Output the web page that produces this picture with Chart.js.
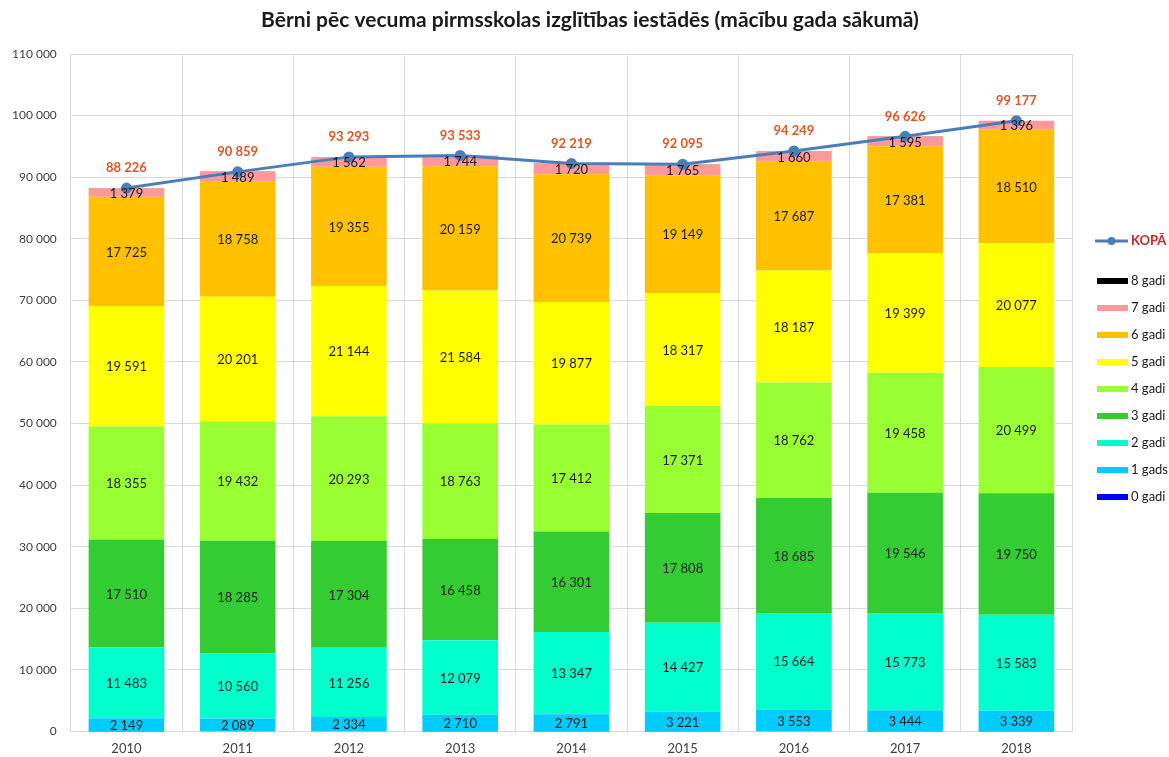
<!DOCTYPE html>
<html>
<head>
<meta charset="utf-8">
<script src="https://cdn.jsdelivr.net/npm/chart.js@4.4.1/dist/chart.umd.min.js"></script>
<style>
  html, body { margin: 0; padding: 0; background: #fff; }
  #wrap { width: 1169px; height: 757px; position: relative; }
</style>
</head>
<body>
<div id="wrap"><canvas id="chart"></canvas></div>
<script>
// Data
const years = ['2010', '2011', '2012', '2013', '2014', '2015', '2016', '2017', '2018'];
const age0 = [4, 5, 5, 4, 3, 4, 6, 3, 2];
const age1 = [2149, 2089, 2334, 2710, 2791, 3221, 3553, 3444, 3339];
const age2 = [11483, 10560, 11256, 12079, 13347, 14427, 15664, 15773, 15583];
const age3 = [17510, 18285, 17304, 16458, 16301, 17808, 18685, 19546, 19750];
const age4 = [18355, 19432, 20293, 18763, 17412, 17371, 18762, 19458, 20499];
const age5 = [19591, 20201, 21144, 21584, 19877, 18317, 18187, 19399, 20077];
const age6 = [17725, 18758, 19355, 20159, 20739, 19149, 17687, 17381, 18510];
const age7 = [1379, 1489, 1562, 1744, 1720, 1765, 1660, 1595, 1396];
const age8 = [30, 40, 40, 32, 29, 33, 45, 27, 21];
const total = [88226, 90859, 93293, 93533, 92219, 92095, 94249, 96626, 99177];
const yTicks = [0, 10000, 20000, 30000, 40000, 50000, 60000, 70000, 80000, 90000, 100000, 110000];

const FONT = 'Lato, "Open Sans", sans-serif';
const fmt = v => String(v).replace(/\B(?=(\d{3})+(?!\d))/g, ' ');

const barSets = [
  { label: '0 gadi', data: age0, color: '#0000FF', showLabel: false },
  { label: '1 gads', data: age1, color: '#00CCFF', showLabel: true },
  { label: '2 gadi', data: age2, color: '#00FFCC', showLabel: true },
  { label: '3 gadi', data: age3, color: '#33CC33', showLabel: true },
  { label: '4 gadi', data: age4, color: '#99FF33', showLabel: true },
  { label: '5 gadi', data: age5, color: '#FFFF00', showLabel: true },
  { label: '6 gadi', data: age6, color: '#FFC000', showLabel: true },
  { label: '7 gadi', data: age7, color: '#FF9999', showLabel: true },
  { label: '8 gadi', data: age8, color: '#000000', showLabel: false }
];

const datasets = [{
  type: 'line',
  label: 'KOPĀ',
  data: total,
  stack: 'total',
  order: 0,
  borderColor: '#4A7EBB',
  backgroundColor: '#4A7EBB',
  borderWidth: 3,
  pointRadius: 4,
  pointBackgroundColor: '#4A7EBB',
  pointBorderColor: '#4A7EBB',
  tension: 0
}];
barSets.forEach(s => {
  datasets.push({
    type: 'bar',
    label: s.label,
    data: s.data,
    stack: 'ages',
    order: 1,
    backgroundColor: s.color,
    borderWidth: 0,
    barPercentage: 0.68,
    categoryPercentage: 1,
    showLabel: s.showLabel
  });
});

// segment values and the red totals
const labelPlugin = {
  id: 'labels',
  afterDatasetsDraw(chart) {
    const ctx = chart.ctx;
    ctx.save();
    ctx.textAlign = 'center';
    ctx.textBaseline = 'middle';
    chart.data.datasets.forEach((ds, i) => {
      if (ds.type !== 'bar' || !ds.showLabel) return;
      chart.getDatasetMeta(i).data.forEach((bar, j) => {
        ctx.font = '13px ' + FONT;
        ctx.fillStyle = '#1a1a1a';
        ctx.fillText(fmt(ds.data[j]), bar.x, (bar.y + bar.base) / 2 + 1);
      });
    });
    const meta = chart.getDatasetMeta(0);
    meta.data.forEach((pt, j) => {
      ctx.font = 'bold 13px ' + FONT;
      ctx.fillStyle = '#E0561E';
      ctx.fillText(fmt(total[j]), pt.x, pt.y - 20);
    });
    ctx.restore();
  }
};

// title and legend at the right, KOPĀ first then 8 gadi down to 0 gadi
const legendPlugin = {
  id: 'sideLegend',
  afterDraw(chart) {
    const ctx = chart.ctx;
    const x0 = 1097, x1 = 1128;
    ctx.save();
    ctx.textBaseline = 'middle';
    ctx.textAlign = 'center';
    ctx.fillStyle = '#1a1a1a';
    ctx.font = 'bold 21px ' + FONT;
    ctx.fillText('Bērni pēc vecuma pirmsskolas izglītības iestādēs (mācību gada sākumā)', 590, 20);
    ctx.textAlign = 'left';
    // KOPĀ
    let y = 241;
    ctx.strokeStyle = '#4A7EBB';
    ctx.lineWidth = 3;
    ctx.beginPath();
    ctx.moveTo(x0 - 2, y);
    ctx.lineTo(x1, y);
    ctx.stroke();
    ctx.fillStyle = '#4A7EBB';
    ctx.beginPath();
    ctx.arc((x0 + x1) / 2 - 1, y, 4, 0, Math.PI * 2);
    ctx.fill();
    ctx.fillStyle = '#D2222A';
    ctx.font = 'bold 13px ' + FONT;
    ctx.fillText('KOPĀ', x1 + 3, y);
    // bars
    ctx.font = '13px ' + FONT;
    barSets.slice().reverse().forEach((s, k) => {
      const yy = 281 + k * 27;
      ctx.fillStyle = s.color;
      ctx.fillRect(x0, yy - 3, x1 - x0, 6);
      ctx.fillStyle = '#1a1a1a';
      ctx.fillText(s.label, x1 + 3, yy);
    });
    ctx.restore();
  }
};

new Chart(document.getElementById('chart'), {
  data: { labels: years, datasets: datasets },
  plugins: [labelPlugin, legendPlugin],
  options: {
    responsive: true,
    maintainAspectRatio: false,
    animation: false,
    layout: { padding: { left: -2, right: 97, top: 54, bottom: -10 } },
    plugins: {
      legend: { display: false },
      tooltip: { enabled: false },
      title: { display: false }
    },
    scales: {
      x: {
        stacked: true,
        grid: { offset: true, color: '#D9D9D9', drawTicks: false },
        border: { color: '#D9D9D9' },
        ticks: { color: '#404040', font: { family: FONT, size: 13 }, padding: 10 }
      },
      y: {
        stacked: true,
        min: 0,
        max: 110000,
        afterBuildTicks: axis => { axis.ticks = yTicks.map(v => ({ value: v })); },
        grid: { color: '#D9D9D9', drawTicks: false },
        border: { display: false },
        ticks: {
          color: '#404040',
          font: { family: FONT, size: 12 },
          padding: 14,
          callback: v => fmt(v)
        }
      }
    }
  }
});
</script>
</body>
</html>
